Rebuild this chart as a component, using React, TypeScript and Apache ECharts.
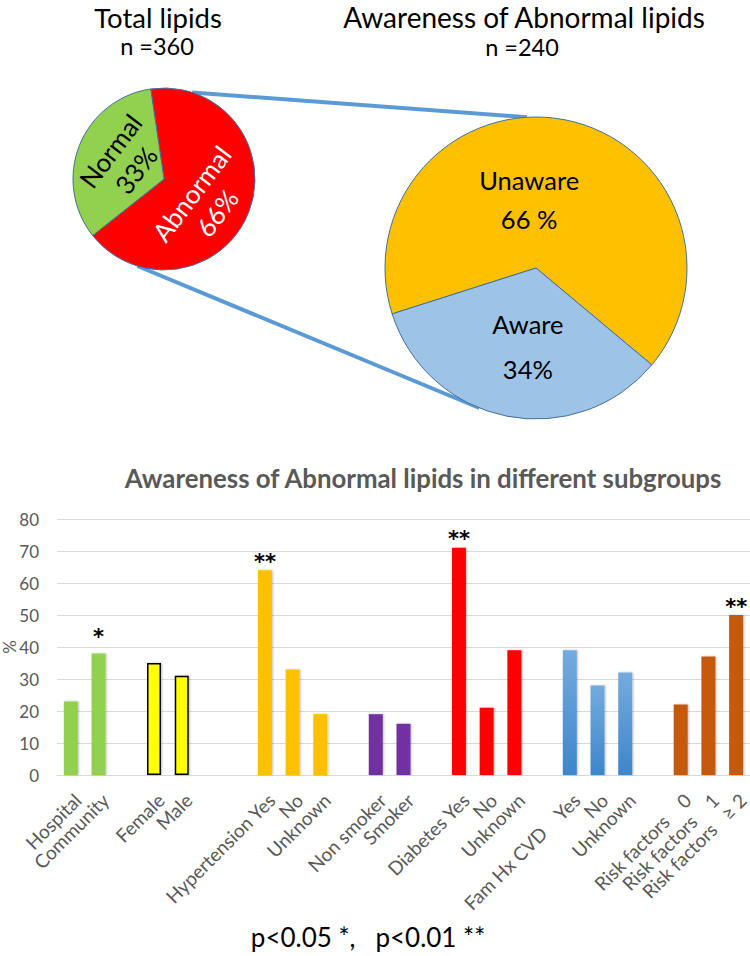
import React, { useEffect, useRef } from 'react';
import * as echarts from 'echarts';

const FONT = 'Lato, "Open Sans", sans-serif';

// ---- Data ----
const pie1Names = ['Abnormal', 'Normal'];
const pie1Values = [66, 33];
const pie1Percent = ['66%', '33%'];

const pie2Names = ['Unaware', 'Aware'];
const pie2Values = [66, 34];
const pie2Percent = ['66 %', '34%'];

const NB = '\u00A0';
const barCategories = [
  'Hospital', 'Community', '',
  'Female', 'Male', '', '',
  'Hypertension Yes', 'No', 'Unknown', '',
  'Non smoker', 'Smoker', '',
  'Diabetes Yes', 'No', 'Unknown', '',
  `Fam Hx CVD${NB}${NB}${NB}${NB}Yes`, 'No', 'Unknown', '',
  `Risk factors${NB}${NB}${NB}${NB}0`, `Risk factors${NB}${NB}${NB}${NB}1`, `Risk factors${NB}${NB}${NB}≥ 2`,
];
const barGroups = [
  'site', 'site', '',
  'sex', 'sex', '', '',
  'htn', 'htn', 'htn', '',
  'smoke', 'smoke', '',
  'dm', 'dm', 'dm', '',
  'fam', 'fam', 'fam', '',
  'risk', 'risk', 'risk',
];
const barValues: (number | null)[] = [
  23, 38, null,
  35, 31, null, null,
  64, 33, 19, null,
  19, 16, null,
  71, 21, 39, null,
  39, 28, 32, null,
  22, 37, 50,
];
const barStars = [
  '', '*', '',
  '', '', '', '',
  '**', '', '', '',
  '', '', '',
  '**', '', '', '',
  '', '', '', '',
  '', '', '**',
];
const yAxisName = '%';
const yMin = 0;
const yMax = 80;
const yInterval = 10;

// ---- Styles ----
const groupStyle: Record<string, any> = {
  site: { color: '#92D050' },
  sex: { color: '#FFFF00', borderColor: '#000000', borderWidth: 1.5 },
  htn: { color: '#FFC000' },
  smoke: { color: '#7030A0' },
  dm: { color: '#FF0000' },
  fam: {
    color: new echarts.graphic.LinearGradient(0, 0, 0, 1, [
      { offset: 0, color: '#74ABDF' },
      { offset: 1, color: '#3D86C9' },
    ]),
  },
  risk: { color: '#C55A11' },
};
const starDistance: Record<string, number> = { '*': 6, '**': -2 };

const P1C = [164, 179];
const P1R = 91;
const P2C = [536, 268];
const P2R = 151;

function pt(c: number[], r: number, deg: number) {
  const a = (deg * Math.PI) / 180;
  return [c[0] + r * Math.cos(a), c[1] - r * Math.sin(a)];
}

export default function App() {
  const ref = useRef<HTMLDivElement>(null);
  useEffect(() => {
    if (!ref.current) return;
    const chart = echarts.init(ref.current, undefined, { renderer: 'svg' });

    const t1 = pt(P1C, P1R, 72);
    const b1 = pt(P1C, P1R, 253);
    const t2 = pt(P2C, P2R, 93.4);
    const b2 = pt(P2C, P2R, 248);

    const pie1Offsets = [[-8, 0], [3, 3]];
    const pie2Offsets = [[-22, 9], [7, 1]];

    chart.setOption({
      animation: false,
      textStyle: { fontFamily: FONT },
      graphic: [
        { type: 'line', z: 0, shape: { x1: t1[0], y1: t1[1], x2: t2[0], y2: t2[1] }, style: { stroke: '#5B9BD5', lineWidth: 4 } },
        { type: 'line', z: 0, shape: { x1: b1[0], y1: b1[1], x2: b2[0], y2: b2[1] }, style: { stroke: '#5B9BD5', lineWidth: 4 } },
        { type: 'text', x: 158, y: 17, style: { text: 'Total lipids', fontFamily: FONT, fontSize: 27.5, fill: '#000', textAlign: 'center', textVerticalAlign: 'middle' } },
        { type: 'text', x: 157, y: 46, style: { text: 'n =360', fontFamily: FONT, fontSize: 23.5, fill: '#000', textAlign: 'center', textVerticalAlign: 'middle' } },
        { type: 'text', x: 524, y: 17, style: { text: 'Awareness of Abnormal lipids', fontFamily: FONT, fontSize: 28, fill: '#000', textAlign: 'center', textVerticalAlign: 'middle' } },
        { type: 'text', x: 522, y: 47, style: { text: 'n =240', fontFamily: FONT, fontSize: 23.5, fill: '#000', textAlign: 'center', textVerticalAlign: 'middle' } },
        { type: 'text', x: 423, y: 478, style: { text: 'Awareness of Abnormal lipids in different subgroups', fontFamily: FONT, fontSize: 25.8, fontWeight: 'bold', fill: '#595959', textAlign: 'center', textVerticalAlign: 'middle' } },
        { type: 'text', x: 368, y: 937, style: { text: `p<0.05 *,${NB}${NB}${NB}p<0.01 **`, fontFamily: FONT, fontSize: 26, fill: '#000', textAlign: 'center', textVerticalAlign: 'middle' } },
        { type: 'text', x: 9, y: 647, rotation: Math.PI / 2, style: { text: yAxisName, fontFamily: FONT, fontSize: 17, fill: '#595959', textAlign: 'center', textVerticalAlign: 'middle' } },
      ],
      grid: { left: 57, top: 519, width: 693, height: 256, containLabel: false, outerBoundsMode: 'none' },
      xAxis: {
        type: 'category',
        data: barCategories,
        axisLine: { lineStyle: { color: '#D9D9D9', width: 1 } },
        axisTick: { show: false },
        axisLabel: { interval: 0, rotate: 45, color: '#595959', fontSize: 19, fontFamily: FONT, margin: 15, verticalAlign: 'top', align: 'right' },
      },
      yAxis: {
        type: 'value',
        min: yMin,
        max: yMax,
        interval: yInterval,
        axisLine: { show: false },
        axisTick: { show: false },
        splitLine: { lineStyle: { color: '#D9D9D9', width: 1 } },
        axisLabel: { color: '#595959', fontSize: 17, fontFamily: FONT, margin: 18 },
      },
      series: [
        {
          type: 'pie',
          center: P1C,
          radius: P1R,
          startAngle: 98.4,
          clockwise: true,
          silent: true,
          itemStyle: { borderColor: '#41719C', borderWidth: 1 },
          labelLine: { show: false },
          label: {
            show: true,
            position: 'inside',
            rotate: 53,
            fontFamily: FONT,
            fontSize: 26,
            lineHeight: 32,
            formatter: (p: any) => `${p.name}\n${pie1Percent[p.dataIndex]}`,
          },
          labelLayout: (p: any) => ({ dx: pie1Offsets[p.dataIndex][0], dy: pie1Offsets[p.dataIndex][1] }),
          data: pie1Names.map((n, i) => ({
            name: n,
            value: pie1Values[i],
            itemStyle: { color: i === 0 ? '#FF0000' : '#92D050' },
            label: { color: i === 0 ? '#FFFFFF' : '#000000' },
          })),
        },
        {
          type: 'pie',
          center: P2C,
          radius: P2R,
          startAngle: 197.7,
          clockwise: true,
          silent: true,
          itemStyle: { borderColor: '#41719C', borderWidth: 1 },
          labelLine: { show: false },
          label: {
            show: true,
            position: 'inside',
            fontFamily: FONT,
            fontSize: 25.5,
            color: '#000',
            formatter: (p: any) => `${p.name}\n${pie2Percent[p.dataIndex]}`,
          },
          labelLayout: (p: any) => ({ dx: pie2Offsets[p.dataIndex][0], dy: pie2Offsets[p.dataIndex][1] }),
          data: pie2Names.map((n, i) => ({
            name: n,
            value: pie2Values[i],
            itemStyle: { color: i === 0 ? '#FFC000' : '#9DC3E6' },
            label: { lineHeight: i === 0 ? 39 : 45 },
          })),
        },
        {
          type: 'bar',
          barWidth: 14,
          silent: true,
          data: barValues.map((v, i) => {
            const g = barGroups[i];
            const st = barStars[i];
            return {
              value: v,
              itemStyle: g ? { ...groupStyle[g], shadowBlur: 2, shadowColor: 'rgba(0,0,0,0.25)', shadowOffsetX: 1, shadowOffsetY: 0 } : undefined,
              label: st
                ? { show: true, position: 'top', formatter: st, color: '#000', fontSize: 21, fontWeight: 'bold', fontFamily: '"DejaVu Sans"', distance: starDistance[st] }
                : { show: false },
            };
          }),
        },
      ],
    });
    return () => chart.dispose();
  }, []);
  return <div ref={ref} style={{ position: 'absolute', left: 0, top: 0, width: 750, height: 956 }} />;
}
